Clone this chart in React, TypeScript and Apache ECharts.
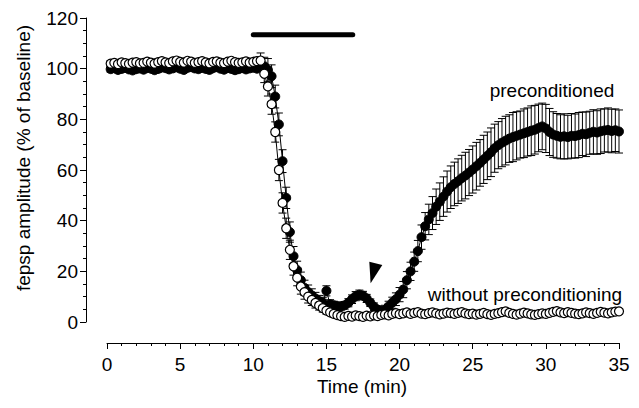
import React, { useEffect, useRef } from "react";
import * as echarts from "echarts";

// Sampling of the recordings (min)
const T_START = 0.25;
const T_STEP = 0.25;

// Without preconditioning (open circles), % of baseline
const OPEN_MEAN = [
  102.0, 102.3, 101.8, 102.5, 102.2, 101.9, 102.4, 102.6, 102.1, 102.3,
  102.8, 102.4, 102.0, 102.6, 103.0, 102.5, 102.2, 102.9, 103.2, 102.7,
  102.4, 103.1, 102.8, 102.3, 102.6, 103.0, 102.5, 102.1, 102.7, 102.9,
  102.4, 102.2, 102.8, 103.1, 102.6, 102.3, 102.5, 102.9, 102.4, 102.7,
  103.0, 103.2,
  98.0, 93.0, 86.0, 75.0, 60.0, 47.0, 37.0, 28.5, 22.0, 17.5,
  14.0, 11.8, 10.0, 8.7, 7.5, 6.5, 5.5, 4.5, 3.8, 3.2,
  2.7, 2.3, 2.0, 2.4, 2.1, 2.6, 2.3, 2.0, 2.5, 2.2,
  2.6, 2.3, 2.8, 3.0, 2.6, 3.2, 3.5, 3.1,
  3.4, 3.8, 3.2, 3.6, 3.9, 3.3, 3.1, 3.5, 3.8, 3.4,
  3.0, 3.3, 3.7, 3.5, 3.2, 3.6, 3.9, 3.4, 3.1, 3.3,
  2.9, 3.2, 3.6, 3.1, 2.8, 3.2, 3.5, 3.9, 4.2, 3.6,
  3.2, 2.9, 3.3, 3.7, 3.4, 3.0, 2.8, 3.1, 3.4, 3.2,
  3.6, 4.0, 4.3, 3.8, 3.5, 3.9, 3.6, 3.3, 3.1, 3.4,
  3.8, 3.5, 3.2, 3.6, 4.0, 3.7, 3.4, 3.8, 4.1, 4.2,
];
const OPEN_SEM = [
  1.2, 1.1, 1.2, 1.3, 1.2, 1.1, 1.2, 1.2, 1.3, 1.2,
  1.1, 1.2, 1.2, 1.3, 1.2, 1.1, 1.2, 1.2, 1.3, 1.2,
  1.1, 1.2, 1.2, 1.3, 1.2, 1.1, 1.2, 1.2, 1.3, 1.2,
  1.1, 1.2, 1.2, 1.3, 1.2, 1.1, 1.2, 1.2, 1.3, 1.2,
  1.5, 3.0,
  3.5, 3.8, 4.0, 4.0, 4.2, 4.0, 4.0, 3.8, 3.5, 3.2,
  3.0, 2.8, 2.5, 2.2, 2.0, 1.8, 1.6, 1.4, 1.2, 1.2,
  1.0, 1.0, 1.0, 1.0, 1.0, 1.0, 1.0, 1.0, 1.0, 1.0,
  1.0, 1.0, 1.0, 1.0, 1.0, 1.0, 1.0, 1.0,
  1.0, 1.0, 1.0, 1.0, 1.0, 1.0, 1.0, 1.0, 1.0, 1.0,
  1.0, 1.0, 1.0, 1.0, 1.0, 1.0, 1.0, 1.0, 1.0, 1.0,
  1.0, 1.0, 1.0, 1.0, 1.0, 1.0, 1.0, 1.0, 1.0, 1.0,
  1.0, 1.0, 1.0, 1.0, 1.0, 1.0, 1.0, 1.0, 1.0, 1.0,
  1.0, 1.0, 1.0, 1.0, 1.0, 1.0, 1.0, 1.0, 1.0, 1.0,
  1.0, 1.0, 1.0, 1.0, 1.0, 1.0, 1.0, 1.0, 1.0, 1.0,
];

// Preconditioned (filled circles), % of baseline
const FILLED_MEAN = [
  99.8, 100.2, 99.5, 99.9, 100.4, 99.7, 99.3, 99.8, 100.1, 99.6,
  100.3, 100.0, 99.4, 99.9, 100.5, 100.2, 99.7, 100.1, 100.6, 100.0,
  99.5, 100.3, 100.7, 100.1, 99.8, 100.4, 99.9, 99.5, 100.2, 100.6,
  100.0, 99.6, 100.3, 99.9, 99.4, 99.8, 100.2, 99.7, 100.1, 100.4,
  100.0, 100.8, 101.0, 99.5,
  97.0, 89.0, 78.0, 63.5, 49.0, 35.5, 26.0, 20.5, 16.5, 13.5,
  11.8, 10.5, 9.3, 8.3, 7.6, 12.3, 7.0, 6.6, 6.3, 6.2,
  6.6, 7.6, 9.0, 10.2, 10.8, 10.4, 9.3, 7.6, 6.0, 4.9,
  4.3, 4.8, 6.2, 7.6, 9.0, 10.8, 12.8, 16.5, 20.0, 23.8,
  28.0, 33.5, 37.8, 40.5, 43.0, 45.5, 47.5, 49.5, 51.5, 53.2,
  54.5, 55.6, 56.8, 57.8, 59.0, 60.2, 61.5, 62.8, 64.2, 65.6,
  67.0, 68.6, 69.8, 70.8, 71.6, 72.4, 73.0, 73.5, 74.0, 74.5,
  75.0, 75.5, 75.9, 76.6, 77.2, 76.4, 75.0, 74.0, 73.5, 73.1,
  73.3, 73.0, 73.5, 73.4, 73.8, 74.3, 74.1, 74.7, 75.1, 74.8,
  75.3, 75.6, 75.8, 75.4, 75.7, 75.2,
];
const FILLED_SEM = [
  1.2, 1.1, 1.2, 1.3, 1.2, 1.1, 1.2, 1.2, 1.3, 1.2,
  1.1, 1.2, 1.2, 1.3, 1.2, 1.1, 1.2, 1.2, 1.3, 1.2,
  1.1, 1.2, 1.2, 1.3, 1.2, 1.1, 1.2, 1.2, 1.3, 1.2,
  1.1, 1.2, 1.2, 1.3, 1.2, 1.1, 1.2, 1.2, 1.3, 1.2,
  1.2, 2.0, 3.5, 4.5,
  4.5, 4.5, 4.5, 4.5, 4.2, 4.0, 3.8, 3.5, 3.2, 3.0,
  2.8, 2.6, 2.4, 2.2, 2.0, 2.0, 1.8, 1.6, 1.5, 1.5,
  1.5, 1.6, 1.7, 1.8, 1.8, 1.7, 1.6, 1.5, 1.5, 1.5,
  1.6, 1.8, 2.0, 2.2, 2.5, 2.8, 3.2, 3.4, 3.6, 3.8,
  4.2, 4.8, 5.4, 6.0, 6.5, 7.0, 7.4, 7.8, 8.1, 8.4,
  8.6, 8.8, 9.0, 9.2, 9.1, 9.3, 9.4, 9.2, 9.5, 9.4,
  9.6, 9.5, 9.3, 9.5, 9.6, 9.4, 9.7, 9.5, 9.3, 9.6,
  9.5, 9.8, 9.6, 9.4, 9.2, 9.5, 9.3, 9.0, 8.8, 8.7,
  8.9, 8.6, 8.8, 8.7, 8.9, 8.6, 8.8, 8.5, 8.7, 8.6,
  8.8, 8.5, 8.7, 8.6, 8.4, 8.5,
];

// Drug application bar [time, level] and arrowhead vertices [time, value]
const DRUG_BAR = [
  [10.0, 113.4],
  [16.8, 113.4],
];
const ARROW = [
  [17.93, 23.8],
  [18.82, 22.5],
  [18.02, 15.3],
];

const X_MIN = 0;
const X_MAX = 35;
const X_INTERVAL = 5;
const Y_MIN = 0;
const Y_MAX = 120;
const Y_INTERVAL = 20;

const X_TITLE = "Time (min)";
const Y_TITLE = "fepsp amplitude (% of baseline)";
const LABEL_PRE = "preconditioned";
const LABEL_NOPRE = "without preconditioning";

const FONT = "'Liberation Sans', Arial, Helvetica, sans-serif";

function timeAt(i: number) {
  return +(T_START + i * T_STEP).toFixed(2);
}

function pts(mean: number[]) {
  return mean.map((v, i) => [timeAt(i), v]);
}
function bars(mean: number[], sem: number[]) {
  return mean.map((v, i) => [timeAt(i), v - sem[i], v + sem[i]]);
}

const errRender = (params: any, api: any) => {
  const x = api.value(0);
  const lo = api.value(1);
  const hi = api.value(2);
  const a = api.coord([x, hi]);
  const b = api.coord([x, lo]);
  const hw = 4;
  const st = { stroke: "#000", lineWidth: 1 };
  return {
    type: "group",
    children: [
      { type: "line", shape: { x1: a[0], y1: a[1], x2: b[0], y2: b[1] }, style: st },
      { type: "line", shape: { x1: a[0] - hw, y1: a[1], x2: a[0] + hw, y2: a[1] }, style: st },
      { type: "line", shape: { x1: b[0] - hw, y1: b[1], x2: b[0] + hw, y2: b[1] }, style: st },
    ],
  };
};

export default function App() {
  const ref = useRef<HTMLDivElement>(null);
  useEffect(() => {
    if (!ref.current) return;
    const chart = echarts.init(ref.current, undefined, { renderer: "svg" });
    const axisCommon = {
      axisLine: { show: true, onZero: false, lineStyle: { color: "#000", width: 1 } },
      axisTick: { show: true, inside: false, length: 6, lineStyle: { color: "#000", width: 1 } },
      minorTick: { show: true, length: 3, lineStyle: { color: "#000", width: 1 } },
      splitLine: { show: false },
      minorSplitLine: { show: false },
    };
    chart.setOption({
      animation: false,
      backgroundColor: "#fff",
      grid: { left: 107, right: 20, top: 18, bottom: 86, containLabel: false },
      xAxis: {
        type: "value",
        min: X_MIN,
        max: X_MAX,
        interval: X_INTERVAL,
        offset: 21,
        ...axisCommon,
        minorTick: { ...axisCommon.minorTick, splitNumber: 5 },
        axisLabel: { color: "#000", fontSize: 19, fontFamily: FONT, margin: 12 },
      },
      yAxis: {
        type: "value",
        min: Y_MIN,
        max: Y_MAX,
        interval: Y_INTERVAL,
        offset: 21,
        ...axisCommon,
        minorTick: { ...axisCommon.minorTick, splitNumber: 4 },
        axisLabel: { color: "#000", fontSize: 19, fontFamily: FONT, margin: 8 },
      },
      graphic: [
        {
          type: "text",
          x: 362,
          y: 386,
          style: { text: X_TITLE, fill: "#000", font: `19px ${FONT}`, textAlign: "center", textVerticalAlign: "middle" },
        },
        {
          type: "text",
          x: 23,
          y: 158,
          rotation: Math.PI / 2,
          style: { text: Y_TITLE, fill: "#000", font: `19px ${FONT}`, textAlign: "center", textVerticalAlign: "middle" },
        },
        {
          type: "text",
          x: 552,
          y: 90,
          style: { text: LABEL_PRE, fill: "#000", font: `19px ${FONT}`, textAlign: "center", textVerticalAlign: "middle" },
        },
        {
          type: "text",
          x: 525,
          y: 294,
          style: { text: LABEL_NOPRE, fill: "#000", font: `19px ${FONT}`, textAlign: "center", textVerticalAlign: "middle" },
        },
      ],
      series: [
        {
          type: "line",
          data: DRUG_BAR,
          symbol: "none",
          lineStyle: { color: "#000", width: 5, cap: "round" },
          z: 2,
        },
        {
          type: "custom",
          data: [ARROW.flat()],
          encode: { x: [0, 2, 4], y: [1, 3, 5] },
          renderItem: (params: any, api: any) => {
            const p = [0, 1, 2].map((k) => api.coord([api.value(2 * k), api.value(2 * k + 1)]));
            return { type: "polygon", shape: { points: p }, style: { fill: "#000" } };
          },
          z: 2,
        },
        {
          type: "custom",
          data: bars(FILLED_MEAN, FILLED_SEM),
          encode: { x: 0, y: [1, 2] },
          renderItem: errRender,
          z: 3,
        },
        {
          type: "custom",
          data: bars(OPEN_MEAN, OPEN_SEM),
          encode: { x: 0, y: [1, 2] },
          renderItem: errRender,
          z: 3,
        },
        {
          type: "line",
          data: pts(FILLED_MEAN),
          symbol: "circle",
          symbolSize: 9,
          showAllSymbol: true,
          lineStyle: { color: "#000", width: 1 },
          itemStyle: { color: "#000", borderColor: "#000", borderWidth: 1 },
          z: 4,
        },
        {
          type: "line",
          data: pts(OPEN_MEAN),
          symbol: "circle",
          symbolSize: 9,
          showAllSymbol: true,
          lineStyle: { color: "#000", width: 1 },
          itemStyle: { color: "#fff", borderColor: "#000", borderWidth: 1.2 },
          z: 5,
        },
      ],
    });
    return () => chart.dispose();
  }, []);
  return (
    <div
      ref={ref}
      style={{ position: "absolute", left: 0, top: 0, width: 639, height: 408, background: "#fff" }}
    />
  );
}
